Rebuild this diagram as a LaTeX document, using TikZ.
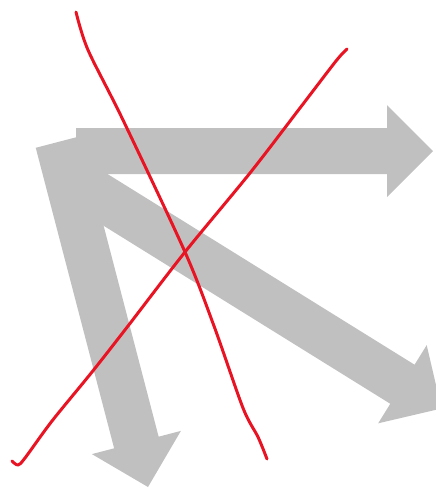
\documentclass[tikz,border=0pt]{standalone}
\usetikzlibrary{calc}
\definecolor{arrowgrey}{RGB}{192,192,192}
\definecolor{penred}{RGB}{232,20,35}
\tikzset{
  fatarrow/.style={fill=arrowgrey, draw=none},
  strike/.style={draw=penred, line width=3pt, line cap=round, line join=round}
}
\newcommand\bigarrow[3]{% name, start, tip
  \coordinate (#1S) at #2;
  \coordinate (#1T) at #3;
  \coordinate (#1H) at ($(#1T)!46pt!(#1S)$);
  \fill[fatarrow] ($(#1S)!23pt!90:(#1T)$) -- ($(#1H)!23pt!-90:(#1S)$)
    -- ($(#1H)!46pt!-90:(#1S)$) -- (#1T) -- ($(#1H)!46pt!90:(#1S)$)
    -- ($(#1H)!23pt!90:(#1S)$) -- ($(#1S)!23pt!-90:(#1T)$) -- cycle;
}
\begin{document}
\begin{tikzpicture}[x=1pt,y=-1pt]
  \useasboundingbox (0,0) rectangle (436,488);
  \clip (0,0) rectangle (436,488);
  % grey arrows
  \bigarrow{r}{(76,151)}{(433,151)}
  \bigarrow{d}{(58,142)}{(148,487)}
  \bigarrow{g}{(80,184)}{(441.5,408.5)}
  % red strike-through lines
  \draw[strike] plot[smooth, tension=0.5] coordinates {
    (76,12) (88,50) (123,120) (185,252) (214,326)
    (243,408) (258,437) (267,459)};
  \draw[strike] plot[smooth, tension=0.5] coordinates {
    (12,461) (18,465) (25,458) (52,421) (92,372) (128,326)
    (185,252) (250,173) (300,108) (336,61) (347,49)};
\end{tikzpicture}
\end{document}
